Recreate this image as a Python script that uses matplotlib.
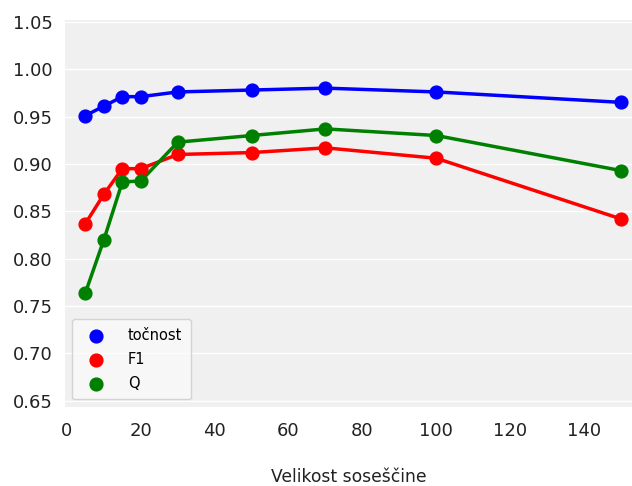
import matplotlib
matplotlib.use("Agg")
import matplotlib.pyplot as plt

# Velikost soseščine
velikost = [5, 10, 15, 20, 30, 50, 70, 100, 150]

# Izmerjene vrednosti
tocnost = [0.951, 0.961, 0.971, 0.971, 0.976, 0.978, 0.980, 0.976, 0.965]
f1 = [0.837, 0.868, 0.895, 0.895, 0.910, 0.912, 0.917, 0.906, 0.842]
q = [0.764, 0.820, 0.881, 0.882, 0.923, 0.930, 0.937, 0.930, 0.893]

y_ticks = [0.65, 0.70, 0.75, 0.80, 0.85, 0.90, 0.95, 1.00, 1.05]
x_ticks = [0, 20, 40, 60, 80, 100, 120, 140]

fig = plt.figure(figsize=(6.32, 4.86), dpi=100)
ax = fig.add_axes([0.103, 0.163, 0.897, 0.796])
ax.set_facecolor("#f0f0f0")
for s in ax.spines.values():
    s.set_visible(False)

serije = [(tocnost, "blue", "točnost"), (f1, "red", "F1"), (q, "green", "Q")]
for vrednosti, barva, ime in serije:
    ax.plot(velikost, vrednosti, color=barva, linewidth=2.5, zorder=3)
    ax.scatter(velikost, vrednosti, color=barva, s=85, label=ime, zorder=4)

ax.set_xlim(-0.5, 153)
ax.set_ylim(0.6437, 1.052)
ax.set_yticks(y_ticks)
ax.set_xticks(x_ticks)
ax.yaxis.grid(True, color="white", linewidth=1.0)
ax.xaxis.grid(False)
ax.set_axisbelow(True)
ax.tick_params(length=0, labelsize=13, colors="#222222")
ax.tick_params(axis="y", pad=9)
ax.tick_params(axis="x", pad=11)

ax.set_xlabel("Velikost soseščine", fontsize=12.3, labelpad=20, color="#222222")

leg = ax.legend(loc="lower left", fontsize=10.5, frameon=True, facecolor="#fafafa",
                edgecolor="#cccccc", borderpad=0.6, handletextpad=1.2, labelspacing=0.6)

fig.savefig("out.png", dpi=100)
